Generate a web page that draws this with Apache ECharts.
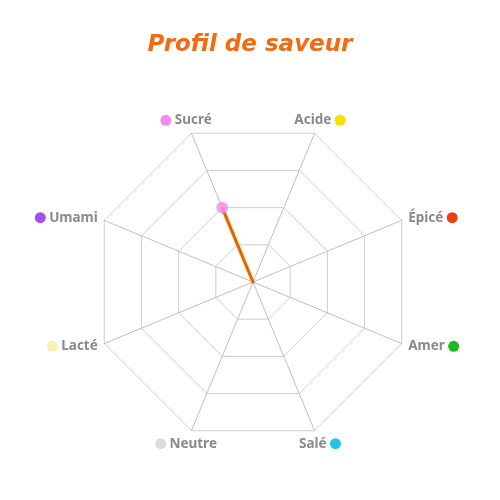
<!DOCTYPE html>
<html>
<head>
<meta charset="utf-8">
<script src="https://cdn.jsdelivr.net/npm/echarts@6/dist/echarts.min.js"></script>
<style>
  html, body { margin: 0; padding: 0; background: #fff; }
  #chart { width: 500px; height: 500px; }
</style>
</head>
<body>
<div id="chart"></div>
<script>
// indicators, listed counter-clockwise from Sucré
const flavours = ['Sucré', 'Umami', 'Lacté', 'Neutre', 'Salé', 'Amer', 'Épicé', 'Acide']
const dotColors = ['#f08cec', '#a64df0', '#f7f2b0', '#dcdcdc', '#1ec4f0', '#20b820', '#f03c10', '#f5e000']
const dotBefore = [true, true, true, true, false, false, false, false]
// top / bottom labels are centred, side labels hug the polygon
const centred = [true, false, false, true, true, false, false, true]
const flavourMax = 10
const profileValues = [5, 0, 0, 0, 0, 0, 0, 0]

const CENTER = [253, 282]
const RADIUS = 161

const rich = {
  name: { color: '#8a8a8a', fontSize: 13.5, fontWeight: 'bold', fontFamily: 'Noto Sans' },
}
flavours.forEach((f, i) => {
  rich['d' + i] = {
    width: 11,
    height: 11,
    borderRadius: 6,
    backgroundColor: dotColors[i],
  }
})

function nameLabel(name, wantCentred) {
  const i = flavours.indexOf(name)
  if (centred[i] !== wantCentred) return ''
  return dotBefore[i] ? `{d${i}|} {name|${name}}` : `{name|${name}} {d${i}|}`
}

const indicators = flavours.map(name => ({ name, min: 0, max: flavourMax }))

const chart = echarts.init(document.getElementById('chart'))

chart.setOption({
  title: {
    text: 'Profil de saveur',
    left: 'center',
    top: 29,
    textStyle: {
      color: '#f26a12',
      fontSize: 23,
      fontWeight: 'bold',
      fontStyle: 'italic',
      fontFamily: 'DejaVu Sans',
    },
  },
  radar: [
    {
      center: CENTER,
      radius: RADIUS,
      startAngle: 112.5,
      splitNumber: 4,
      shape: 'polygon',
      nameGap: 7,
      axisName: { formatter: name => nameLabel(name, false), rich },
      indicator: indicators,
      axisLine: { lineStyle: { color: '#bfbfbf', width: 1 } },
      splitLine: { lineStyle: { color: '#cdcdcd', width: 1 } },
      splitArea: { show: false },
    },
    {
      center: CENTER,
      radius: RADIUS,
      startAngle: 112.5,
      splitNumber: 4,
      shape: 'polygon',
      nameGap: 14,
      axisName: { formatter: name => nameLabel(name, true), align: 'center', rich },
      indicator: indicators,
      axisLine: { show: false },
      splitLine: { show: false },
      splitArea: { show: false },
    },
  ],
  polar: { center: CENTER, radius: RADIUS },
  angleAxis: {
    type: 'value',
    min: 0,
    max: 360,
    startAngle: 112.5,
    clockwise: false,
    axisLine: { show: false },
    axisTick: { show: false },
    axisLabel: { show: false },
    splitLine: { show: false },
  },
  radiusAxis: {
    min: 0,
    max: flavourMax,
    axisLine: { show: false },
    axisTick: { show: false },
    axisLabel: { show: false },
    splitLine: { show: false },
  },
  series: [
    {
      type: 'radar',
      radarIndex: 0,
      silent: true,
      symbol: 'none',
      lineStyle: {
        color: '#df640e',
        width: 3,
        shadowColor: 'rgba(255, 200, 0, 0.6)',
        shadowBlur: 3,
      },
      data: [{ value: profileValues }],
    },
    {
      type: 'scatter',
      coordinateSystem: 'polar',
      silent: true,
      symbolSize: 12,
      itemStyle: { color: dotColors[0] },
      data: profileValues
        .map((v, i) => [v, i * 360 / flavours.length])
        .filter(p => p[0] > 0),
      z: 3,
    },
  ],
})
</script>
</body>
</html>
